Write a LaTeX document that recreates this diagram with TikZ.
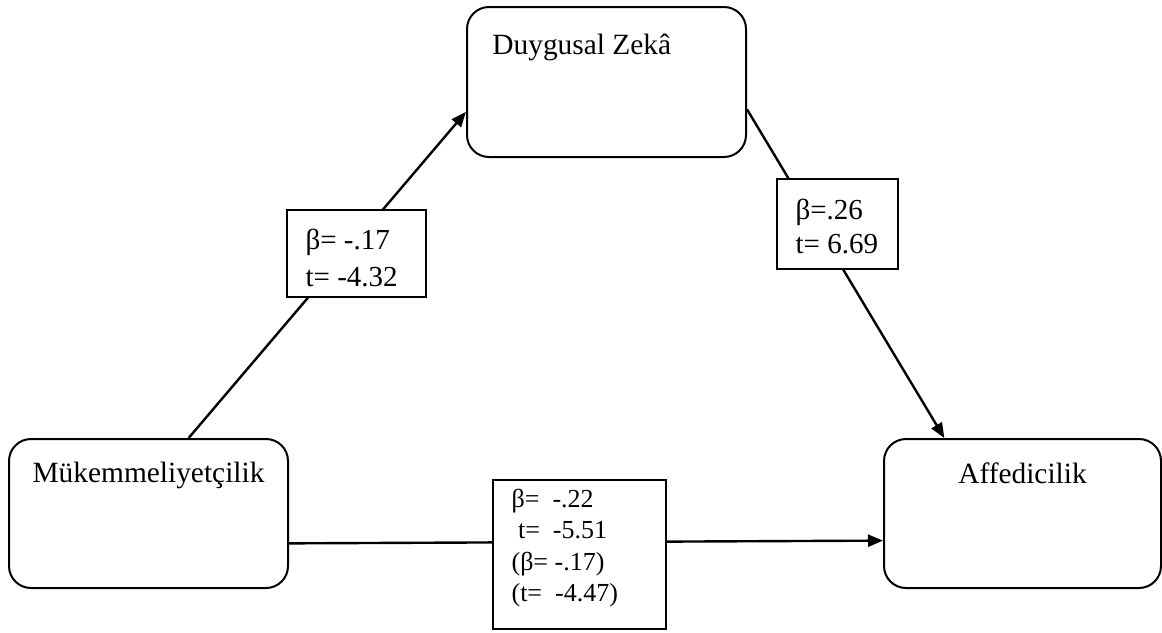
\documentclass[tikz,border=0pt]{standalone}
\usepackage{fontspec}
\setmainfont{Liberation Serif}
\usetikzlibrary{arrows.meta}

\begin{document}
\begin{tikzpicture}[x=0.5pt, y=-0.5pt,
    var/.style={draw, line width=1pt, rounded corners=11pt, minimum width=139.5pt, minimum height=74.5pt, inner sep=0pt},
    vartitle/.style={font=\fontsize{14.7}{17}\selectfont, inner sep=0pt},
    coef/.style={draw, fill=white, line width=0.8pt, inner sep=0pt},
    coeftext/.style={align=left, inner sep=0pt, anchor=west, font=\fontsize{14.5}{18.5}\selectfont},
    effect/.style={line width=1.2pt, -{Triangle[length=7.5pt,width=6pt]}}]
    \useasboundingbox (0,0) rectangle (1162,632);

    \node[var, minimum height=75pt, label={[vartitle, anchor=north west, xshift=13pt, yshift=-14pt]north west:Duygusal Zekâ}] (dz) at (606.5,82) {};
    \node[var, label={[vartitle, anchor=north, yshift=-12pt]north:Mükemmeliyetçilik}] (muk) at (148.5,513.5) {};
    \node[var, minimum width=138.5pt, label={[vartitle, anchor=north, yshift=-12pt]north:Affedicilik}] (aff) at (1022.5,513.5) {};

    \draw[effect] (muk.62) -- (dz.192);
    \draw[effect] (dz.349) -- (aff.136);
    \draw[effect] (muk.348) -- (aff.191);

    \node[coef, minimum width=69.5pt, minimum height=43.5pt, label={[coeftext, xshift=9.5pt, yshift=-2.25pt]west:{β= -.17\\t= -4.32}}] (b1) at (356.5,253.5) {};
    \node[coef, minimum width=60.5pt, minimum height=45pt, label={[coeftext, font=\fontsize{14.5}{17}\selectfont, xshift=9.5pt, yshift=-1pt]west:{β=.26\\t= 6.69}}] (b2) at (837.5,224) {};
    \node[coef, minimum width=86.5pt, minimum height=74.5pt, label={[coeftext, font=\fontsize{13}{15.75}\selectfont, xshift=9.5pt, yshift=3.25pt]west:{β=\ \ -.22\\\ t=\ \ -5.51\\(β= -.17)\\(t=\ \ -4.47)}}] (b3) at (579.5,554.5) {};
\end{tikzpicture}
\end{document}
